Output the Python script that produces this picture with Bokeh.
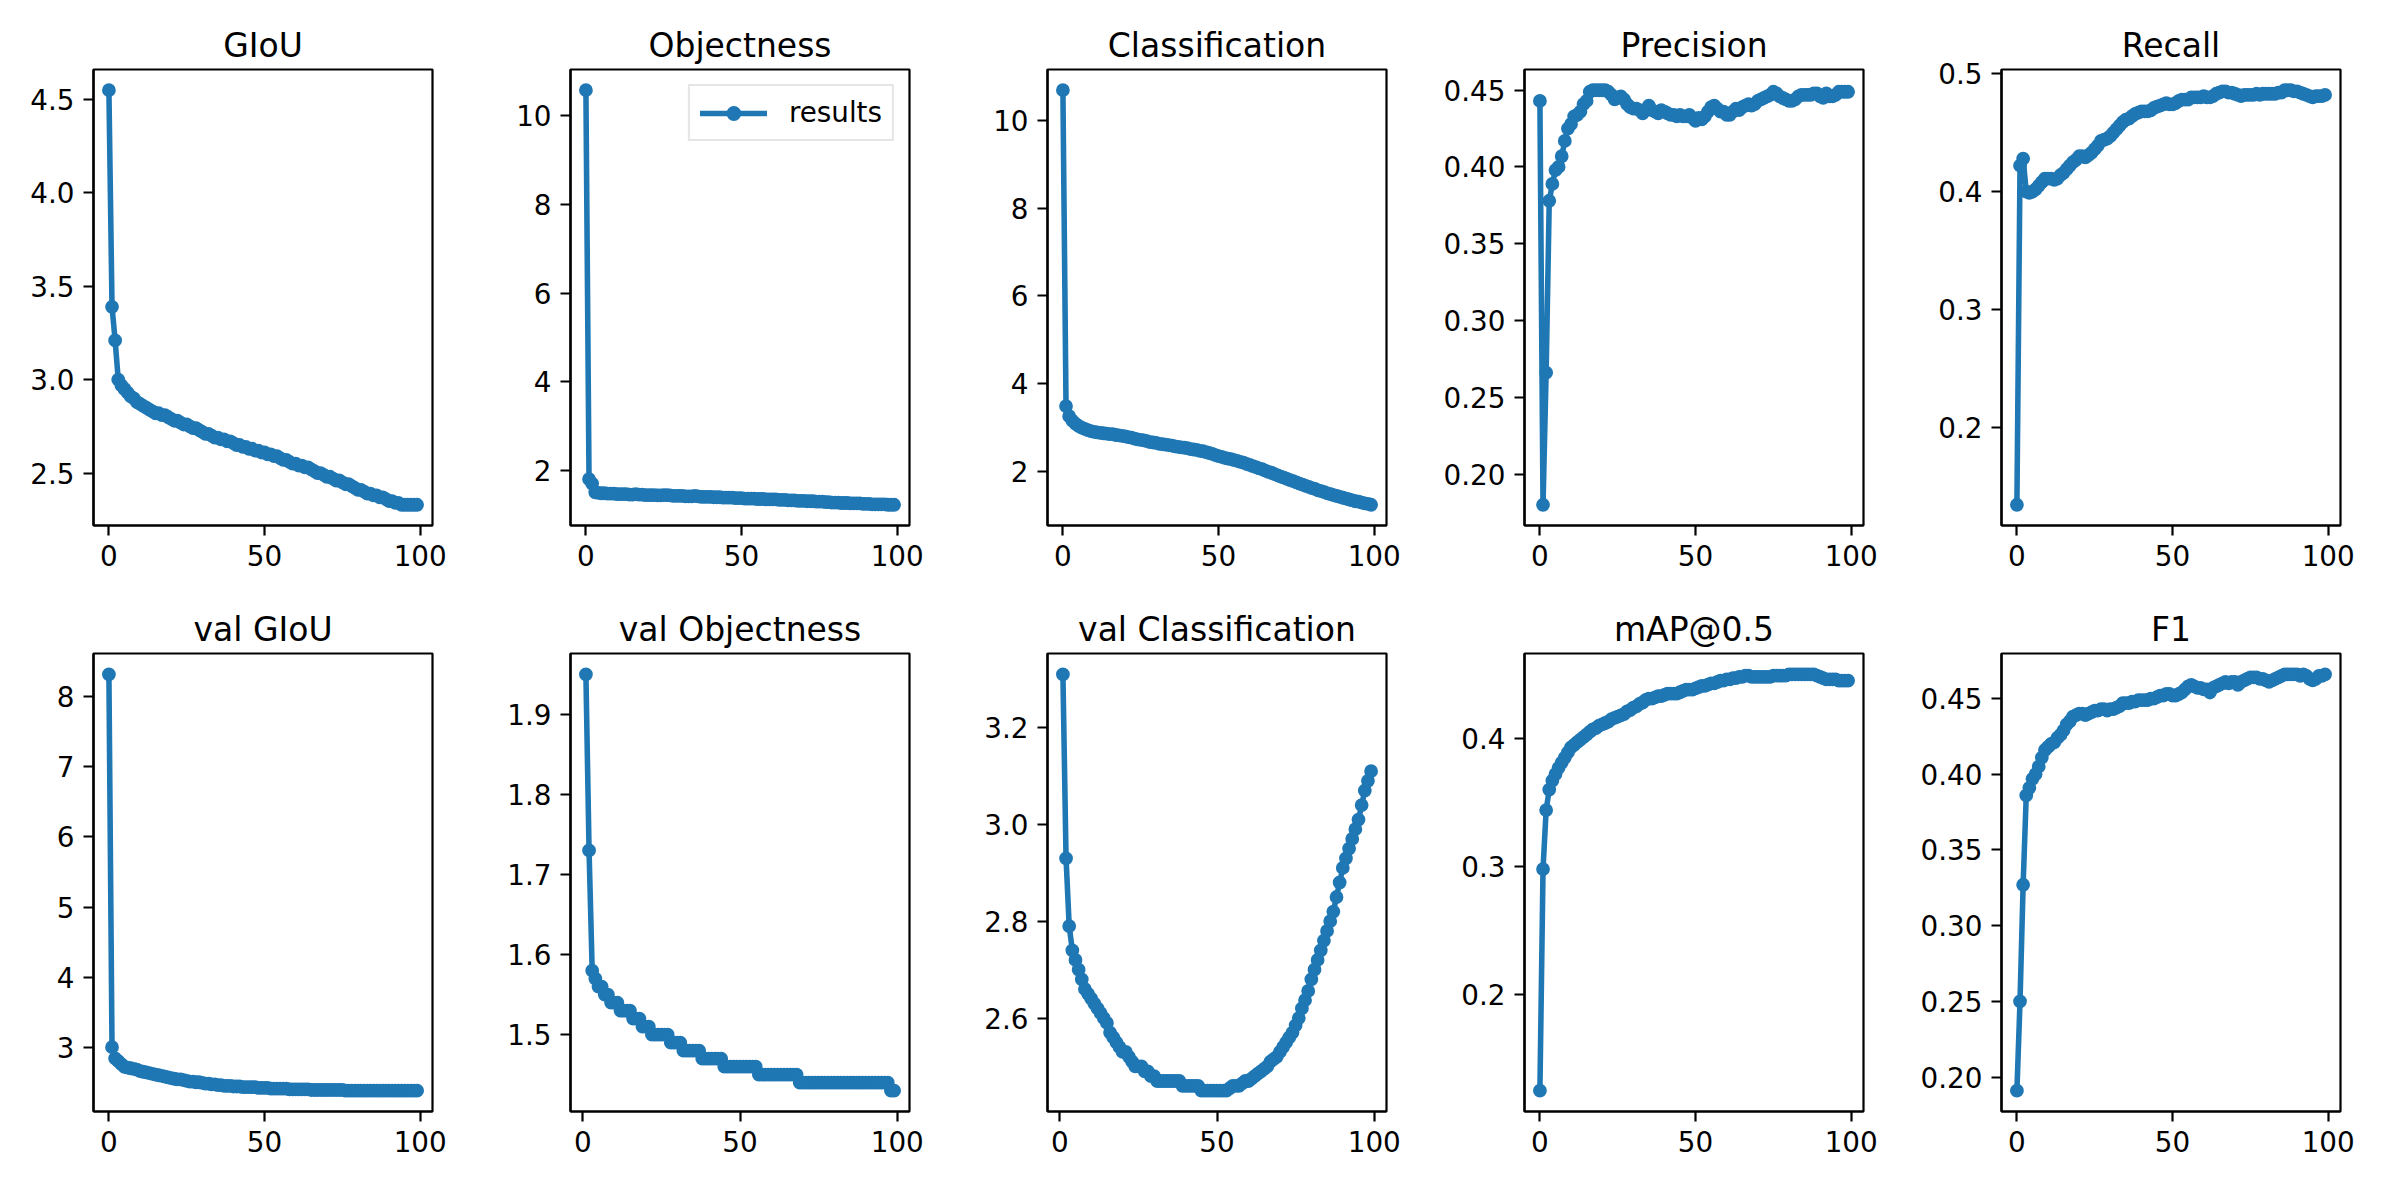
import math
from bokeh.plotting import figure
from bokeh.layouts import column, row
from bokeh.models import Range1d, FixedTicker, PrintfTickFormatter, Legend, LegendItem
from bokeh.embed import file_html
from bokeh.resources import INLINE

NAN = float("nan")
epochs = list(range(100))

giou = [4.55, 3.39, 3.21, 3.00, 2.97, 2.95, 2.93, 2.91, 2.90, 2.88,
        2.87, 2.86, 2.85, 2.84, 2.83, 2.82, 2.82, 2.81, 2.81, 2.80,
        2.79, 2.78, 2.78, 2.77, 2.76, 2.76, 2.75, 2.74, 2.74, 2.73,
        2.72, 2.71, 2.71, 2.70, 2.69, 2.69, 2.68, 2.68, 2.67, 2.67,
        2.66, 2.65, 2.65, 2.64, 2.64, 2.63, 2.63, 2.62, 2.62, 2.61,
        2.61, 2.60, 2.60, 2.59, 2.59, 2.58, 2.57, 2.57, 2.56, 2.55,
        2.55, 2.54, 2.54, 2.53, 2.53, 2.52, 2.51, 2.50, 2.50, 2.49,
        2.48, 2.48, 2.47, 2.46, 2.46, 2.45, 2.44, 2.44, 2.43, 2.42,
        2.41, 2.41, 2.40, 2.39, 2.39, 2.38, 2.38, 2.37, 2.37, 2.36,
        2.35, 2.35, 2.34, 2.34, 2.33, 2.33, 2.33, 2.33, 2.33, 2.33]

objectness = [10.58, 1.80, 1.70, 1.50, 1.49, 1.48, 1.48, 1.47, 1.47, 1.47,
              1.46, 1.46, 1.46, 1.46, 1.45, 1.45, 1.46, 1.45, 1.45, 1.44,
              1.44, 1.44, 1.44, 1.43, 1.43, 1.44, 1.44, 1.43, 1.42, 1.42,
              1.42, 1.42, 1.41, 1.41, 1.41, 1.42, 1.41, 1.40, 1.40, 1.40,
              1.40, 1.39, 1.39, 1.39, 1.38, 1.38, 1.38, 1.38, 1.37, 1.37,
              1.37, 1.36, 1.36, 1.36, 1.36, 1.35, 1.35, 1.35, 1.34, 1.34,
              1.34, 1.34, 1.33, 1.33, 1.33, 1.32, 1.32, 1.32, 1.31, 1.31,
              1.31, 1.30, 1.30, 1.30, 1.29, 1.29, 1.29, 1.28, 1.28, 1.27,
              1.27, 1.27, 1.26, 1.26, 1.26, 1.25, 1.25, 1.25, 1.25, 1.24,
              1.24, 1.24, 1.23, 1.23, 1.23, 1.23, 1.23, 1.22, 1.22, 1.22]

classification = [10.69, 3.49, 3.26, 3.16, 3.09, 3.04, 3.00, 2.97, 2.94, 2.92,
                  2.90, 2.89, 2.88, 2.87, 2.86, 2.85, 2.85, 2.83, 2.82, 2.81,
                  2.80, 2.78, 2.77, 2.75, 2.73, 2.72, 2.71, 2.69, 2.67, 2.66,
                  2.65, 2.63, 2.62, 2.61, 2.60, 2.59, 2.57, 2.56, 2.55, 2.54,
                  2.53, 2.51, 2.50, 2.49, 2.47, 2.46, 2.44, 2.42, 2.40, 2.37,
                  2.35, 2.33, 2.31, 2.29, 2.28, 2.26, 2.24, 2.22, 2.20, 2.17,
                  2.15, 2.12, 2.10, 2.07, 2.05, 2.02, 1.99, 1.97, 1.94, 1.91,
                  1.88, 1.86, 1.83, 1.80, 1.78, 1.75, 1.72, 1.70, 1.67, 1.65,
                  1.62, 1.60, 1.57, 1.55, 1.53, 1.50, 1.48, 1.46, 1.44, 1.42,
                  1.40, 1.38, 1.36, 1.34, 1.32, 1.31, 1.29, 1.27, 1.26, 1.24]

precision = [0.443, 0.180, 0.266, 0.378, 0.389, 0.398, 0.400, 0.407, 0.417, 0.425,
             0.428, 0.433, 0.434, 0.436, 0.441, 0.443, 0.449, 0.450, 0.450, 0.450,
             0.450, 0.450, 0.449, 0.447, 0.444, 0.445, 0.446, 0.444, 0.441, 0.439,
             0.438, 0.438, 0.437, 0.435, 0.437, 0.440, 0.437, 0.436, 0.435, 0.437,
             0.436, 0.435, 0.434, 0.434, 0.433, 0.434, 0.433, 0.433, 0.434, 0.432,
             0.430, 0.432, 0.431, 0.433, 0.436, 0.439, 0.440, 0.438, 0.436, 0.436,
             0.434, 0.434, 0.436, 0.438, 0.437, 0.439, 0.440, 0.441, 0.440, 0.441,
             0.443, 0.444, 0.445, 0.446, 0.447, 0.449, 0.448, 0.446, 0.445, 0.444,
             0.443, 0.443, 0.444, 0.446, 0.447, 0.447, 0.447, 0.447, 0.448, 0.448,
             0.446, 0.445, 0.448, 0.446, 0.446, 0.447, 0.449, 0.449, 0.449, 0.449]

recall = [0.1345, 0.422, 0.428, 0.400, 0.399, 0.400, 0.402, 0.405, 0.408, 0.411,
          0.411, 0.411, 0.410, 0.411, 0.414, 0.416, 0.419, 0.422, 0.425, 0.427,
          0.430, 0.430, 0.429, 0.431, 0.433, 0.436, 0.439, 0.443, 0.444, 0.445,
          0.447, 0.450, 0.453, 0.456, 0.459, 0.461, 0.462, 0.464, 0.466, 0.467,
          0.468, 0.468, 0.468, 0.469, 0.471, 0.472, 0.473, 0.474, 0.475, 0.474,
          0.474, 0.475, 0.477, 0.478, 0.478, 0.478, 0.480, 0.480, 0.480, 0.480,
          0.481, 0.480, 0.480, 0.481, 0.483, 0.484, 0.485, 0.485, 0.484, 0.484,
          0.483, 0.482, 0.481, 0.482, 0.482, 0.482, 0.482, 0.483, 0.482, 0.483,
          0.483, 0.483, 0.483, 0.483, 0.484, 0.484, 0.486, 0.486, 0.486, 0.485,
          0.485, 0.484, 0.483, 0.482, 0.481, 0.480, 0.481, 0.481, 0.481, 0.482]

val_giou = [8.32, 3.00, 2.84, 2.80, 2.76, 2.72, 2.71, 2.70, 2.69, 2.68,
            2.66, 2.65, 2.64, 2.63, 2.62, 2.61, 2.60, 2.59, 2.58, 2.57,
            2.56, 2.55, 2.54, 2.54, 2.53, 2.52, 2.51, 2.51, 2.50, 2.50,
            2.49, 2.48, 2.48, 2.47, 2.47, 2.46, 2.46, 2.45, 2.45, 2.45,
            2.44, 2.44, 2.44, 2.43, 2.43, 2.43, 2.43, 2.43, 2.42, 2.42,
            2.42, 2.42, 2.41, 2.41, 2.41, 2.41, 2.41, 2.41, 2.40, 2.40,
            2.40, 2.40, 2.40, 2.40, 2.40, 2.39, 2.39, 2.39, 2.39, 2.39,
            2.39, 2.39, 2.39, 2.39, 2.39, 2.39, 2.38, 2.38, 2.38, 2.38,
            2.38, 2.38, 2.38, 2.38, 2.38, 2.38, 2.38, 2.38, 2.38, 2.38,
            2.38, 2.38, 2.38, 2.38, 2.38, 2.38, 2.38, 2.38, 2.38, 2.38]

val_objectness = [NAN, 1.95, 1.73, 1.58, 1.57, 1.56, 1.56, 1.55, 1.55, 1.54,
                  1.54, 1.54, 1.53, 1.53, 1.53, 1.53, 1.52, 1.52, 1.52, 1.51,
                  1.51, 1.51, 1.50, 1.50, 1.50, 1.50, 1.50, 1.50, 1.49, 1.49,
                  1.49, 1.49, 1.48, 1.48, 1.48, 1.48, 1.48, 1.48, 1.47, 1.47,
                  1.47, 1.47, 1.47, 1.47, 1.47, 1.46, 1.46, 1.46, 1.46, 1.46,
                  1.46, 1.46, 1.46, 1.46, 1.46, 1.46, 1.45, 1.45, 1.45, 1.45,
                  1.45, 1.45, 1.45, 1.45, 1.45, 1.45, 1.45, 1.45, 1.45, 1.44,
                  1.44, 1.44, 1.44, 1.44, 1.44, 1.44, 1.44, 1.44, 1.44, 1.44,
                  1.44, 1.44, 1.44, 1.44, 1.44, 1.44, 1.44, 1.44, 1.44, 1.44,
                  1.44, 1.44, 1.44, 1.44, 1.44, 1.44, 1.44, 1.44, 1.43, 1.43]

val_classification = [NAN, 3.31, 2.93, 2.79, 2.74, 2.72, 2.70, 2.68, 2.66, 2.65,
                      2.64, 2.63, 2.62, 2.61, 2.60, 2.59, 2.57, 2.56, 2.55, 2.54,
                      2.53, 2.53, 2.52, 2.51, 2.50, 2.50, 2.50, 2.49, 2.49, 2.48,
                      2.48, 2.47, 2.47, 2.47, 2.47, 2.47, 2.47, 2.47, 2.47, 2.46,
                      2.46, 2.46, 2.46, 2.46, 2.46, 2.45, 2.45, 2.45, 2.45, 2.45,
                      2.45, 2.45, 2.45, 2.45, 2.455, 2.46, 2.46, 2.46, 2.465, 2.47,
                      2.47, 2.475, 2.48, 2.485, 2.49, 2.495, 2.50, 2.51, 2.515, 2.52,
                      2.53, 2.54, 2.55, 2.56, 2.57, 2.585, 2.60, 2.62, 2.637, 2.656,
                      2.68, 2.70, 2.72, 2.74, 2.76, 2.78, 2.80, 2.82, 2.85, 2.88,
                      2.91, 2.93, 2.95, 2.97, 2.99, 3.01, 3.04, 3.07, 3.09, 3.11]

map05 = [0.125, 0.298, 0.344, 0.360, 0.367, 0.372, 0.377, 0.381, 0.385, 0.389,
         0.393, 0.395, 0.397, 0.399, 0.401, 0.403, 0.405, 0.407, 0.408, 0.410,
         0.411, 0.412, 0.413, 0.415, 0.416, 0.417, 0.418, 0.419, 0.421, 0.422,
         0.424, 0.425, 0.427, 0.428, 0.430, 0.431, 0.431, 0.432, 0.433, 0.433,
         0.434, 0.435, 0.435, 0.435, 0.435, 0.436, 0.437, 0.438, 0.438, 0.438,
         0.439, 0.440, 0.441, 0.441, 0.442, 0.443, 0.443, 0.444, 0.445, 0.445,
         0.446, 0.446, 0.447, 0.447, 0.448, 0.448, 0.449, 0.449, 0.448, 0.448,
         0.448, 0.448, 0.448, 0.448, 0.448, 0.449, 0.449, 0.449, 0.449, 0.449,
         0.450, 0.450, 0.450, 0.450, 0.450, 0.450, 0.450, 0.450, 0.450, 0.449,
         0.448, 0.447, 0.446, 0.446, 0.446, 0.446, 0.445, 0.445, 0.445, 0.445]

f1 = [0.191, 0.250, 0.327, 0.386, 0.391, 0.397, 0.400, 0.405, 0.411, 0.416,
      0.418, 0.420, 0.421, 0.424, 0.426, 0.429, 0.433, 0.435, 0.438, 0.439,
      0.440, 0.440, 0.439, 0.440, 0.441, 0.442, 0.442, 0.443, 0.443, 0.442,
      0.443, 0.443, 0.444, 0.445, 0.447, 0.447, 0.447, 0.448, 0.448, 0.449,
      0.449, 0.449, 0.449, 0.450, 0.450, 0.451, 0.452, 0.452, 0.453, 0.453,
      0.452, 0.452, 0.453, 0.454, 0.456, 0.458, 0.459, 0.458, 0.457, 0.457,
      0.456, 0.456, 0.454, 0.457, 0.458, 0.459, 0.460, 0.461, 0.460, 0.461,
      0.461, 0.459, 0.461, 0.462, 0.463, 0.464, 0.464, 0.464, 0.463, 0.463,
      0.462, 0.461, 0.462, 0.463, 0.464, 0.465, 0.466, 0.466, 0.466, 0.466,
      0.466, 0.465, 0.466, 0.465, 0.463, 0.462, 0.463, 0.465, 0.465, 0.466]

titles = ["GIoU", "Objectness", "Classification", "Precision", "Recall",
          "val GIoU", "val Objectness", "val Classification", "mAP@0.5", "F1"]

x_ticks = [0, 50, 100]
ticks_giou = [2.5, 3.0, 3.5, 4.0, 4.5]
ticks_objectness = [2, 4, 6, 8, 10]
ticks_classification = [2, 4, 6, 8, 10]
ticks_precision = [0.20, 0.25, 0.30, 0.35, 0.40, 0.45]
ticks_recall = [0.2, 0.3, 0.4, 0.5]
ticks_val_giou = [3, 4, 5, 6, 7, 8]
ticks_val_objectness = [1.5, 1.6, 1.7, 1.8, 1.9]
ticks_val_classification = [2.6, 2.8, 3.0, 3.2]
ticks_map = [0.2, 0.3, 0.4]
ticks_f1 = [0.20, 0.25, 0.30, 0.35, 0.40, 0.45]

series = [giou, objectness, classification, precision, recall,
          val_giou, val_objectness, val_classification, map05, f1]
yticks = [ticks_giou, ticks_objectness, ticks_classification, ticks_precision, ticks_recall,
          ticks_val_giou, ticks_val_objectness, ticks_val_classification, ticks_map, ticks_f1]
yfmts = ["%.1f", "%d", "%d", "%.2f", "%.1f", "%d", "%.1f", "%.1f", "%.1f", "%.2f"]

COLOR = "#1f77b4"
FONT = "DejaVu Sans"
FIG_W = 477
LEFT = 93
FRAME_W = 339


def padded(vals):
    lo, hi = min(vals), max(vals)
    m = 0.05 * (hi - lo)
    return lo - m, hi + m


figs = []
for i, (title, ys, tks, fmt) in enumerate(zip(titles, series, yticks, yfmts)):
    r = i // 5
    if r == 0:
        h, top, fh = 584, 69, 456
    else:
        h, top, fh = 600, 69, 458
    xs = [e for e, v in zip(epochs, ys) if not math.isnan(v)]
    vs = [v for v in ys if not math.isnan(v)]
    x0, x1 = padded(xs)
    y0, y1 = padded(vs)
    p = figure(width=FIG_W, height=h, output_backend="svg", toolbar_location=None,
               x_range=Range1d(x0, x1), y_range=Range1d(y0, y1),
               min_border_left=LEFT, min_border_right=FIG_W - LEFT - FRAME_W,
               min_border_top=top, min_border_bottom=h - top - fh)
    p.title.text = title
    p.title.align = "center"
    p.title.text_font = FONT
    p.title.text_font_size = "33px"
    p.title.text_font_style = "normal"
    p.title.text_color = "black"
    p.grid.visible = False
    p.outline_line_color = "black"
    p.outline_line_width = 2.2
    p.outline_line_alpha = 1.0
    p.background_fill_color = "white"
    p.border_fill_color = "white"
    for ax in (p.xaxis[0], p.yaxis[0]):
        ax.axis_line_color = "black"
        ax.axis_line_width = 2.2
        ax.major_tick_line_color = "black"
        ax.major_tick_line_width = 2.2
        ax.major_tick_out = 10
        ax.major_tick_in = 0
        ax.minor_tick_line_color = None
        ax.major_label_text_font = FONT
        ax.major_label_text_font_size = "27.8px"
        ax.major_label_text_color = "black"
        ax.major_label_standoff = 9
    p.xaxis.ticker = FixedTicker(ticks=x_ticks)
    p.xaxis.formatter = PrintfTickFormatter(format="%d")
    p.yaxis.ticker = FixedTicker(ticks=tks)
    p.yaxis.formatter = PrintfTickFormatter(format=fmt)

    ln = p.line(epochs, ys, line_width=5.56, line_color=COLOR, line_join="round", line_cap="round")
    sc = p.scatter(epochs, ys, size=11, fill_color=COLOR, line_color=COLOR, line_width=2.8)
    if i == 1:
        leg = Legend(items=[LegendItem(label="results", renderers=[ln, sc])],
                     location="top_right")
        leg.margin = 15
        leg.padding = 10
        leg.spacing = 0
        leg.glyph_width = 67
        leg.glyph_height = 30
        leg.label_standoff = 22
        leg.label_text_font = FONT
        leg.label_text_font_size = "27.8px"
        leg.label_text_color = "black"
        leg.label_height = 30
        leg.border_line_color = "#cccccc"
        leg.border_line_width = 2.2
        leg.background_fill_alpha = 0.8
        p.add_layout(leg)
    figs.append(p)

layout = column(row(*figs[:5]), row(*figs[5:]))
open("out.html", "w").write(file_html(layout, INLINE))
